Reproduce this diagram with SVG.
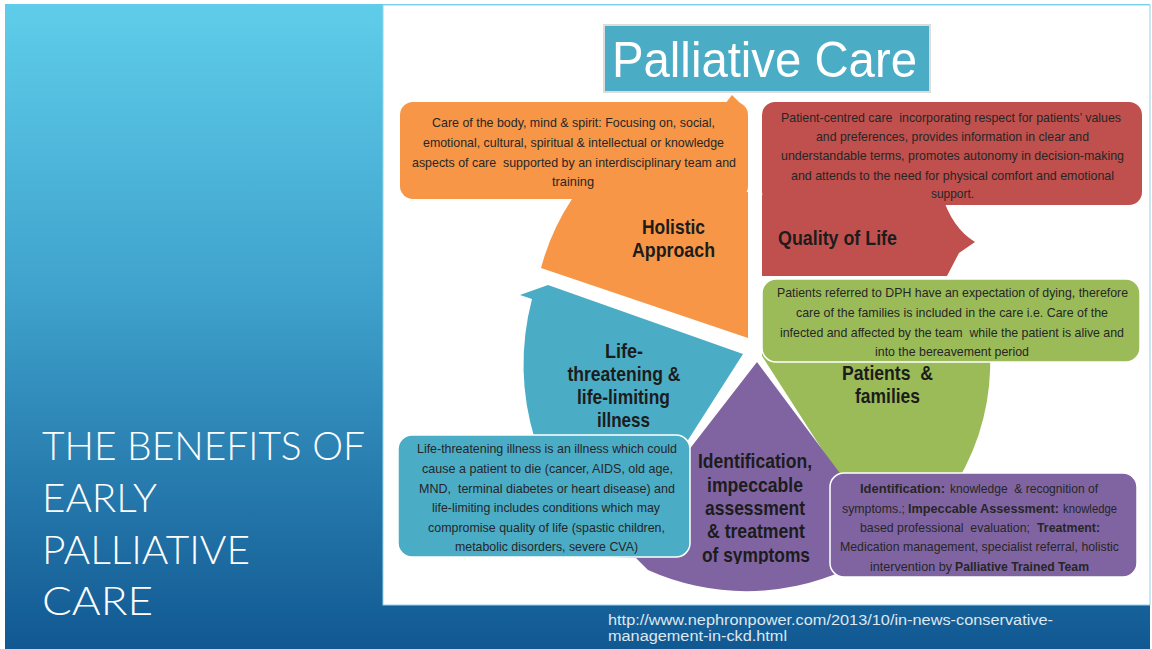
<svg xmlns="http://www.w3.org/2000/svg" width="1152" height="649" viewBox="0 0 1152 649">
<defs>
  <linearGradient id="bg" x1="0" y1="0" x2="0" y2="1">
    <stop offset="0" stop-color="#5fcdea"/>
    <stop offset="0.45" stop-color="#3fa2cc"/>
    <stop offset="1" stop-color="#115892"/>
  </linearGradient>
  <clipPath id="clipSym"><rect x="680" y="440" width="150" height="124"/></clipPath>
</defs>
<style>
  .t{font-family:"Liberation Sans Narrow","Liberation Sans",Arial,sans-serif;font-size:13px;fill:#262626;text-anchor:middle;white-space:pre}
  .ts{font-family:"Liberation Sans Narrow","Liberation Sans",Arial,sans-serif;font-size:13px;fill:#262626;text-anchor:start;white-space:pre}
  .tb{font-weight:bold}
  .lb{font-family:"Liberation Sans Narrow","Liberation Sans",Arial,sans-serif;font-size:21px;font-weight:bold;fill:#1c1c1c;text-anchor:middle;white-space:pre}
  .side{font-family:Lato,"Open Sans","Liberation Sans",sans-serif;font-weight:300;font-size:40px;fill:#ffffff}
  .url{font-family:"Liberation Sans",Arial,sans-serif;font-size:14px;fill:#dde8f1}
  .orange{fill:#f79646}
  .red{fill:#c0504d}
  .green{fill:#9bbb59}
  .purple{fill:#8064a2}
  .blue{fill:#4bacc6}
  .callout{stroke:#ffffff;stroke-width:1.5}
</style>

<rect width="1152" height="649" fill="#ffffff"/>
<rect x="5" y="4" width="1145" height="645" fill="url(#bg)"/>
<rect x="383" y="5" width="767" height="600" fill="#ffffff" stroke="#8fd6ec" stroke-width="1"/>

<g id="side-title">
  <text class="side" x="42" y="460" textLength="323" lengthAdjust="spacingAndGlyphs">THE BENEFITS OF</text>
  <text class="side" x="42" y="512" textLength="115" lengthAdjust="spacingAndGlyphs">EARLY</text>
  <text class="side" x="42" y="564" textLength="208" lengthAdjust="spacingAndGlyphs">PALLIATIVE</text>
  <text class="side" x="42" y="615" textLength="111" lengthAdjust="spacingAndGlyphs">CARE</text>
</g>

<g id="source-url">
  <text class="url" x="608" y="625" textLength="445" lengthAdjust="spacingAndGlyphs">http://www.nephronpower.com/2013/10/in-news-conservative-</text>
  <text class="url" x="608" y="641" textLength="179" lengthAdjust="spacingAndGlyphs">management-in-ckd.html</text>
</g>

<g id="node-title">
  <rect x="604" y="25" width="326" height="67" fill="#4bacc6" stroke="#dcdcdc" stroke-width="2"/>
  <text x="764.5" y="77" text-anchor="middle" textLength="305" lengthAdjust="spacingAndGlyphs" font-family="'Liberation Sans',Arial,sans-serif" font-size="50" fill="#ffffff">Palliative Care</text>
</g>

<g id="node-holistic">
  <path class="orange" d="M748,338 L541,268 A236,236 0 0 1 572,199 L700,192 L748,192 Z"/>
  <polygon class="orange" points="725,104 732,95 741,104"/>
  <rect class="orange" x="400" y="102" width="348" height="97" rx="13"/>
  <text class="t" x="573.5" y="127" textLength="283" lengthAdjust="spacingAndGlyphs">Care of the body, mind &amp; spirit: Focusing on, social,</text>
  <text class="t" x="573.5" y="147" textLength="301" lengthAdjust="spacingAndGlyphs">emotional, cultural, spiritual &amp; intellectual or knowledge</text>
  <text class="t" x="574" y="167" textLength="324" lengthAdjust="spacingAndGlyphs">aspects of care  supported by an interdisciplinary team and</text>
  <text class="t" x="573" y="186" textLength="42" lengthAdjust="spacingAndGlyphs">training</text>
  <text class="lb" x="673.5" y="234" textLength="63" lengthAdjust="spacingAndGlyphs">Holistic</text>
  <text class="lb" x="673.5" y="257" textLength="83" lengthAdjust="spacingAndGlyphs">Approach</text>
</g>

<g id="node-quality">
  <path class="red" d="M762,195 L942,195 Q952,228 975,242 L959,253 L947,276 L762,276 Z"/>
  <rect class="red" x="762" y="102" width="380" height="103" rx="13"/>
  <text class="t" x="951" y="121.5" textLength="340" lengthAdjust="spacingAndGlyphs">Patient-centred care  incorporating respect for patients’ values</text>
  <text class="t" x="952.5" y="140.5" textLength="273" lengthAdjust="spacingAndGlyphs">and preferences, provides information in clear and</text>
  <text class="t" x="952.5" y="159.5" textLength="343" lengthAdjust="spacingAndGlyphs">understandable terms, promotes autonomy in decision-making</text>
  <text class="t" x="952.5" y="179.5" textLength="323" lengthAdjust="spacingAndGlyphs">and attends to the need for physical comfort and emotional</text>
  <text class="t" x="952.5" y="197.5" textLength="43" lengthAdjust="spacingAndGlyphs">support.</text>
  <text class="lb" x="778" y="245" style="text-anchor:start" textLength="119" lengthAdjust="spacingAndGlyphs">Quality of Life</text>
</g>

<g id="node-patients">
  <path class="green" d="M762,340 L762,356 L843,482 L957,482 A238,238 0 0 0 990,350 L990,340 Z"/>
  <rect class="green callout" x="762" y="279" width="378" height="83" rx="14"/>
  <text class="t" x="952.5" y="296.5" textLength="351" lengthAdjust="spacingAndGlyphs">Patients referred to DPH have an expectation of dying, therefore</text>
  <text class="t" x="952" y="316.5" textLength="312" lengthAdjust="spacingAndGlyphs">care of the families is included in the care i.e. Care of the</text>
  <text class="t" x="952" y="336.5" textLength="344" lengthAdjust="spacingAndGlyphs">infected and affected by the team  while the patient is alive and</text>
  <text class="t" x="952" y="355.5" textLength="154" lengthAdjust="spacingAndGlyphs">into the bereavement period</text>
  <text class="lb" x="887.5" y="380" textLength="91" lengthAdjust="spacingAndGlyphs">Patients  &amp;</text>
  <text class="lb" x="887.5" y="403" textLength="65" lengthAdjust="spacingAndGlyphs">families</text>
</g>

<g id="node-identification">
  <path class="purple" d="M757,362 L845,480 L845,570 A240,240 0 0 1 648,570 L636,558 L606,557 Z"/>
  <rect class="purple callout" x="830" y="473" width="307" height="104" rx="14"/>
  <text class="ts tb" x="860" y="492.5" textLength="85" lengthAdjust="spacingAndGlyphs">Identification:</text>
  <text class="ts" x="950" y="492.5" textLength="148" lengthAdjust="spacingAndGlyphs">knowledge  &amp; recognition of</text>
  <text class="ts" x="842" y="512.5" textLength="63" lengthAdjust="spacingAndGlyphs">symptoms.;</text>
  <text class="ts tb" x="908" y="512.5" textLength="151" lengthAdjust="spacingAndGlyphs">Impeccable Assessment:</text>
  <text class="ts" x="1063" y="512.5" textLength="54" lengthAdjust="spacingAndGlyphs">knowledge</text>
  <text class="ts" x="860" y="531.5" textLength="170" lengthAdjust="spacingAndGlyphs">based professional  evaluation;</text>
  <text class="ts tb" x="1037" y="531.5" textLength="63" lengthAdjust="spacingAndGlyphs">Treatment:</text>
  <text class="t" x="979.5" y="550.5" textLength="279" lengthAdjust="spacingAndGlyphs">Medication management, specialist referral, holistic</text>
  <text class="ts" x="870" y="570.5" textLength="82" lengthAdjust="spacingAndGlyphs">intervention by</text>
  <text class="ts tb" x="955" y="570.5" textLength="134" lengthAdjust="spacingAndGlyphs">Palliative Trained Team</text>
  <g clip-path="url(#clipSym)">
    <text class="lb" x="755" y="468" textLength="114" lengthAdjust="spacingAndGlyphs">Identification,</text>
    <text class="lb" x="755" y="492" textLength="96" lengthAdjust="spacingAndGlyphs">impeccable</text>
    <text class="lb" x="755" y="515" textLength="100" lengthAdjust="spacingAndGlyphs">assessment</text>
    <text class="lb" x="756" y="538" textLength="98" lengthAdjust="spacingAndGlyphs">&amp; treatment</text>
    <text class="lb" x="756" y="562" textLength="108" lengthAdjust="spacingAndGlyphs">of symptoms</text>
  </g>
</g>

<g id="node-illness">
  <path class="blue" d="M743,354 L548,285 L520,295 L532,299 A260,260 0 0 0 535,440 L688,440 Z"/>
  <rect class="blue callout" x="398" y="435" width="292" height="122" rx="14"/>
  <text class="t" x="547" y="452.5" textLength="260" lengthAdjust="spacingAndGlyphs">Life-threatening illness is an illness which could</text>
  <text class="t" x="547.5" y="472.5" textLength="251" lengthAdjust="spacingAndGlyphs">cause a patient to die (cancer, AIDS, old age,</text>
  <text class="t" x="547" y="492.5" textLength="256" lengthAdjust="spacingAndGlyphs">MND,  terminal diabetes or heart disease) and</text>
  <text class="t" x="546" y="511.5" textLength="228" lengthAdjust="spacingAndGlyphs">life-limiting includes conditions which may</text>
  <text class="t" x="546.5" y="531.5" textLength="237" lengthAdjust="spacingAndGlyphs">compromise quality of life (spastic children,</text>
  <text class="t" x="546.5" y="550.5" textLength="183" lengthAdjust="spacingAndGlyphs">metabolic disorders, severe CVA)</text>
  <text class="lb" x="624" y="358" textLength="38" lengthAdjust="spacingAndGlyphs">Life-</text>
  <text class="lb" x="624" y="381" textLength="113" lengthAdjust="spacingAndGlyphs">threatening &amp;</text>
  <text class="lb" x="623.5" y="404" textLength="93" lengthAdjust="spacingAndGlyphs">life-limiting</text>
  <text class="lb" x="623.5" y="427" textLength="53" lengthAdjust="spacingAndGlyphs">illness</text>
</g>
</svg>
